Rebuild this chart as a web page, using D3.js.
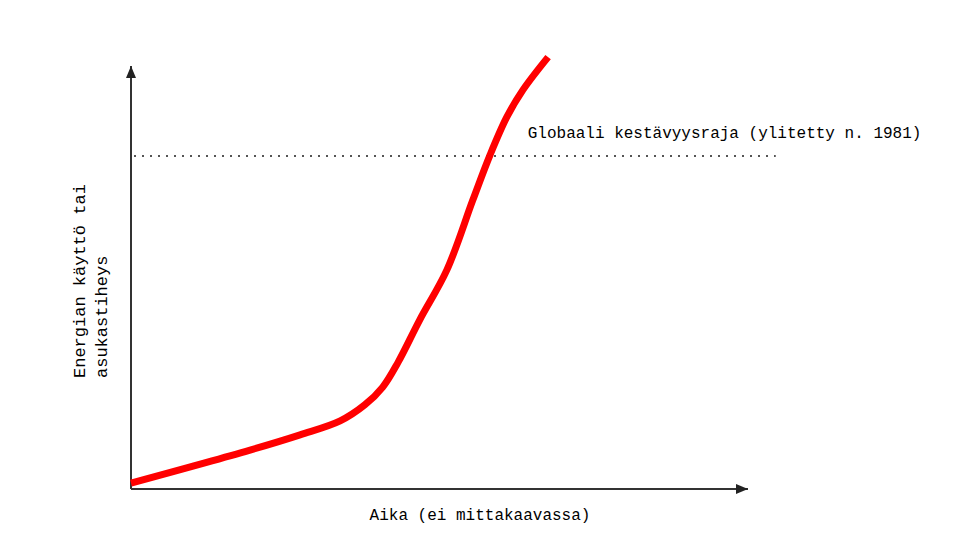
<!DOCTYPE html>
<html>
<head>
<meta charset="utf-8">
<script src="https://cdn.jsdelivr.net/npm/d3@7"></script>
<style>
  html, body { margin: 0; padding: 0; background: #fff; }
  text { font-family: 'Liberation Mono', 'DejaVu Sans Mono', monospace; fill: #000; }
</style>
</head>
<body>
<div id="chart"></div>
<script>
// time (not to scale) vs energy use / population density, arbitrary units 0..100
var time = [0, 19.3, 27.4, 33.9, 37.9, 40.8, 43.3, 46.8, 51.2, 55.4, 58.2, 60.9, 63.5, 67.6];
var usage = [1.4, 9.2, 12.8, 16.1, 19.9, 24.1, 30.0, 40.0, 51.8, 68.3, 79.0, 87.9, 94.3, 102.1];

var limitValue = 78.7;
var limitEnd = 104.5;
var limitLabel = 'Globaali kestävyysraja (ylitetty n. 1981)';
var xLabel = 'Aika (ei mittakaavassa)';
var yLabel = ['Energian käyttö tai', 'asukastiheys'];

var width = 960;
var height = 540;

var points = time.map((t, i) => ({ t: t, v: usage[i] }));

/* Scale */
var xScale = d3.scaleLinear().domain([0, 100]).range([131, 748]);
var yScale = d3.scaleLinear().domain([0, 100]).range([489, 66]);

var svg = d3
  .select('#chart')
  .append('svg')
  .attr('width', width)
  .attr('height', height);

/* Arrow marker */
svg
  .append('defs')
  .append('marker')
  .attr('id', 'arrow')
  .attr('viewBox', '0 0 12 10')
  .attr('refX', 12)
  .attr('refY', 5)
  .attr('markerWidth', 12)
  .attr('markerHeight', 10)
  .attr('markerUnits', 'userSpaceOnUse')
  .attr('orient', 'auto')
  .append('path')
  .attr('d', 'M0,0 L12,5 L0,10 Z')
  .attr('fill', '#222');

/* Axes, no ticks */
var xAxis = d3.axisBottom(xScale).tickValues([]).tickSizeOuter(0);
var yAxis = d3.axisLeft(yScale).tickValues([]).tickSizeOuter(0);

var gx = svg
  .append('g')
  .attr('class', 'x axis')
  .attr('transform', `translate(0, ${yScale(0)})`)
  .call(xAxis);

var gy = svg
  .append('g')
  .attr('class', 'y axis')
  .attr('transform', `translate(${xScale(0)}, 0)`)
  .call(yAxis);

svg.selectAll('.axis .domain')
  .attr('stroke', '#333')
  .attr('stroke-width', 2)
  .attr('marker-end', 'url(#arrow)');

// y axis domain path runs top->bottom, redraw so the arrow sits at the top
gy.select('.domain').attr('d', `M0,${yScale(0)}V${yScale(100)}`);
gx.select('.domain').attr('d', `M${xScale(0)},0H${xScale(100)}`);

/* Limit line */
svg
  .append('line')
  .attr('x1', xScale(0))
  .attr('x2', xScale(limitEnd))
  .attr('y1', yScale(limitValue))
  .attr('y2', yScale(limitValue))
  .attr('stroke', '#555')
  .attr('stroke-width', 2)
  .attr('stroke-dasharray', '2 6')
  .attr('stroke-dashoffset', -3);

svg
  .append('text')
  .attr('x', xScale(64.3))
  .attr('y', yScale(83))
  .attr('font-size', 16)
  .text(limitLabel);

/* Curve */
var line = d3
  .line()
  .x(d => xScale(d.t))
  .y(d => yScale(d.v))
  .curve(d3.curveCatmullRom.alpha(0.5));

svg
  .append('path')
  .datum(points)
  .attr('d', line)
  .attr('fill', 'none')
  .attr('stroke', '#ff0000')
  .attr('stroke-width', 7);

/* Labels */
svg
  .append('text')
  .attr('x', 480)
  .attr('y', 520)
  .attr('text-anchor', 'middle')
  .attr('font-size', 16)
  .text(xLabel);

svg
  .append('text')
  .attr('transform', 'translate(85, 378) rotate(-90)')
  .attr('font-size', 17)
  .selectAll('tspan')
  .data(yLabel)
  .enter()
  .append('tspan')
  .attr('x', 0)
  .attr('dy', (d, i) => (i === 0 ? 0 : 22))
  .text(d => d);
</script>
</body>
</html>
